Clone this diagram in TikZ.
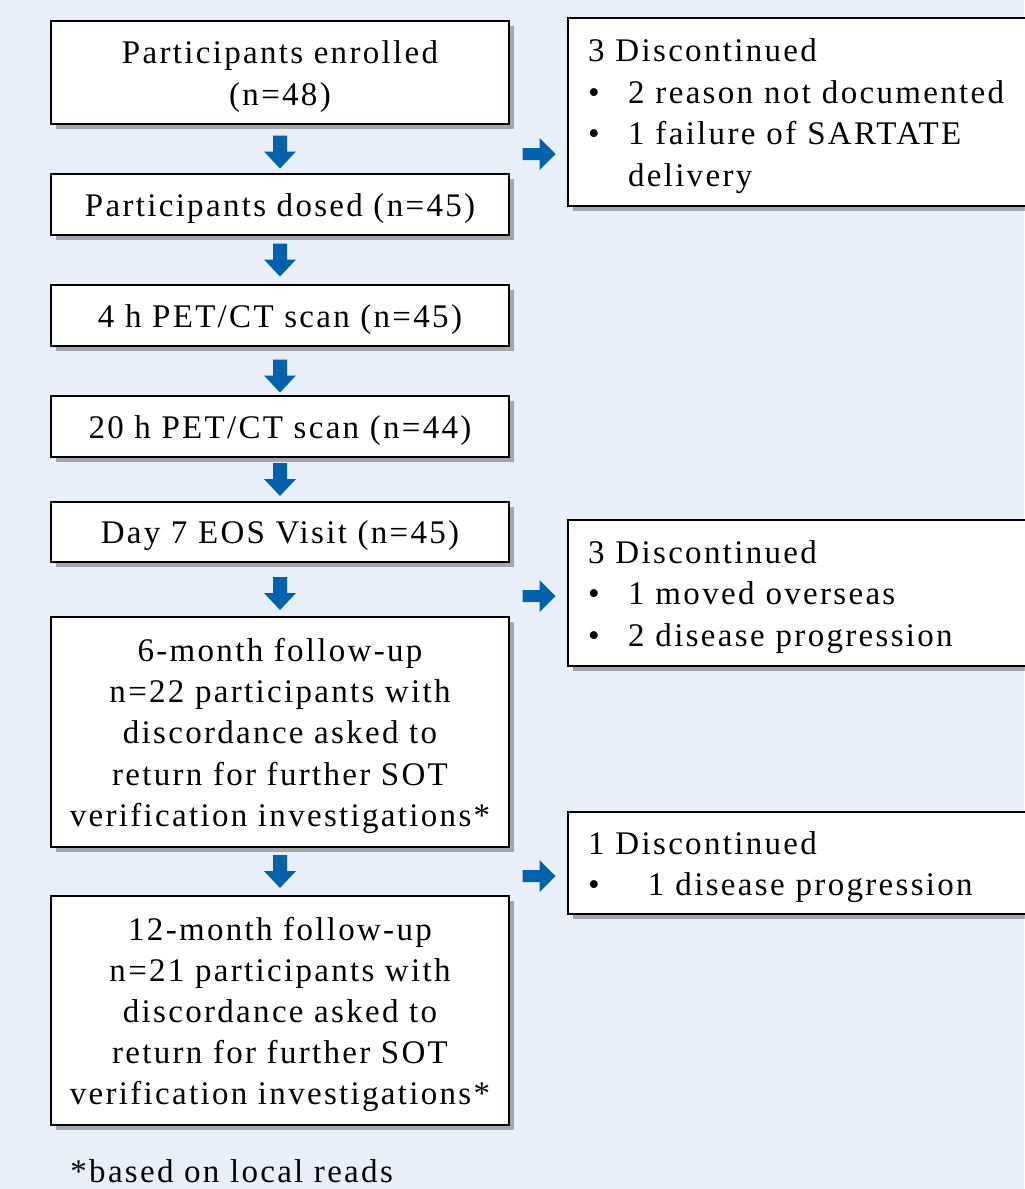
\documentclass[tikz,border=0pt]{standalone}
\usepackage{fontspec}
\setmainfont{Liberation Serif}[LetterSpace=7]
\usetikzlibrary{shadows,calc}
\definecolor{bgblue}{HTML}{E9EFF8}
\definecolor{arrowblue}{HTML}{0062AC}
\newcommand{\bul}[1]{\makebox[#1][l]{\textbullet}}
\newcommand{\fs}{\rule{0pt}{15.5pt}}
\tikzset{
  flowbox/.style={draw=black, line width=1pt, fill=white, minimum width=229pt,
    align=center, inner sep=0pt,
    drop shadow={shadow xshift=2.5pt, shadow yshift=-2.5pt, fill=black, opacity=0.3},
    font=\fontsize{16.5}{20.6}\selectfont},
  sidebox/.style={draw=black, line width=1pt, fill=white, minimum width=231pt,
    text width=211pt, align=left, inner xsep=10pt, inner ysep=0pt,
    drop shadow={shadow xshift=2.5pt, shadow yshift=-2.5pt, fill=black, opacity=0.3},
    font=\fontsize{16.5}{20.9}\selectfont},
  pics/darr/.style={code={
    \fill[arrowblue] (-7pt*0.5,16.5pt*0.5) -- (7pt*0.5,16.5pt*0.5) -- (7pt*0.5,0.5pt*0.5)
      -- (16pt*0.5,0.5pt*0.5) -- (0,-16.5pt*0.5) -- (-16pt*0.5,0.5pt*0.5) -- (-7pt*0.5,0.5pt*0.5) -- cycle;}},
  pics/rarr/.style={code={
    \fill[arrowblue] (-16.5pt*0.5,6pt*0.5) -- (0.5pt*0.5,6pt*0.5) -- (0.5pt*0.5,16pt*0.5)
      -- (16.5pt*0.5,0) -- (0.5pt*0.5,-16pt*0.5) -- (0.5pt*0.5,-6pt*0.5) -- (-16.5pt*0.5,-6pt*0.5) -- cycle;}}
}
\begin{document}
\begin{tikzpicture}[x=0.5pt,y=-0.5pt]
\fill[bgblue] (0,0) rectangle (1024,1189);
\useasboundingbox (0,0) rectangle (1024,1189);

\node[flowbox, minimum height=51.5pt] (b1) at (280,72.5) {\fs Participants enrolled\\(n=48)};
\node[flowbox, minimum height=30.5pt] (b2) at (280,204.5) {\fs Participants dosed (n=45)};
\node[flowbox, minimum height=30.5pt] (b3) at (280,315.5) {\fs 4 h PET/CT scan (n=45)};
\node[flowbox, minimum height=30.5pt] (b4) at (280,426.5) {\fs 20 h PET/CT scan (n=44)};
\node[flowbox, minimum height=30pt] (b5) at (280,532) {\fs Day 7 EOS Visit (n=45)};
\node[flowbox, minimum height=115pt] (b6) at (280,732) {\fs 6-month follow-up\\n=22 participants with\\discordance asked to\\return for further SOT\\verification investigations*};
\node[flowbox, minimum height=114.5pt] (b7) at (280,1010.5) {\fs 12-month follow-up\\n=21 participants with\\discordance asked to\\return for further SOT\\verification investigations*};

\node[sidebox, minimum height=94pt] (r1) at (799,112) {\fs 3 Discontinued\\\bul{20pt}2 reason not documented\\\bul{20pt}1 failure of SARTATE\\\hspace*{20pt}delivery};
\node[sidebox, minimum height=73pt] (r2) at (799,593) {\fs 3 Discontinued\\\bul{20pt}1 moved overseas\\\bul{20pt}2 disease progression};
\node[sidebox, minimum height=51pt] (r3) at (799,863) {\fs 1 Discontinued\\\bul{30pt}1 disease progression};

\node[anchor=west, inner sep=0pt, font=\fontsize{16.5}{20}\selectfont] (fn) at (70,1171) {*based on local reads};

\pic at ($(b1.south)!0.5!(b2.north)+(0,3)$) {darr};
\pic at ($(b2.south)!0.5!(b3.north)$) {darr};
\pic at ($(b3.south)!0.5!(b4.north)+(0,5)$) {darr};
\pic at ($(b4.south)!0.5!(b5.north)$) {darr};
\pic at ($(b5.south)!0.5!(b6.north)+(0,4)$) {darr};
\pic at ($(b6.south)!0.5!(b7.north)$) {darr};

\pic at (539,154) {rarr};
\pic at (539,596) {rarr};
\pic at (539,876) {rarr};
\end{tikzpicture}
\end{document}
